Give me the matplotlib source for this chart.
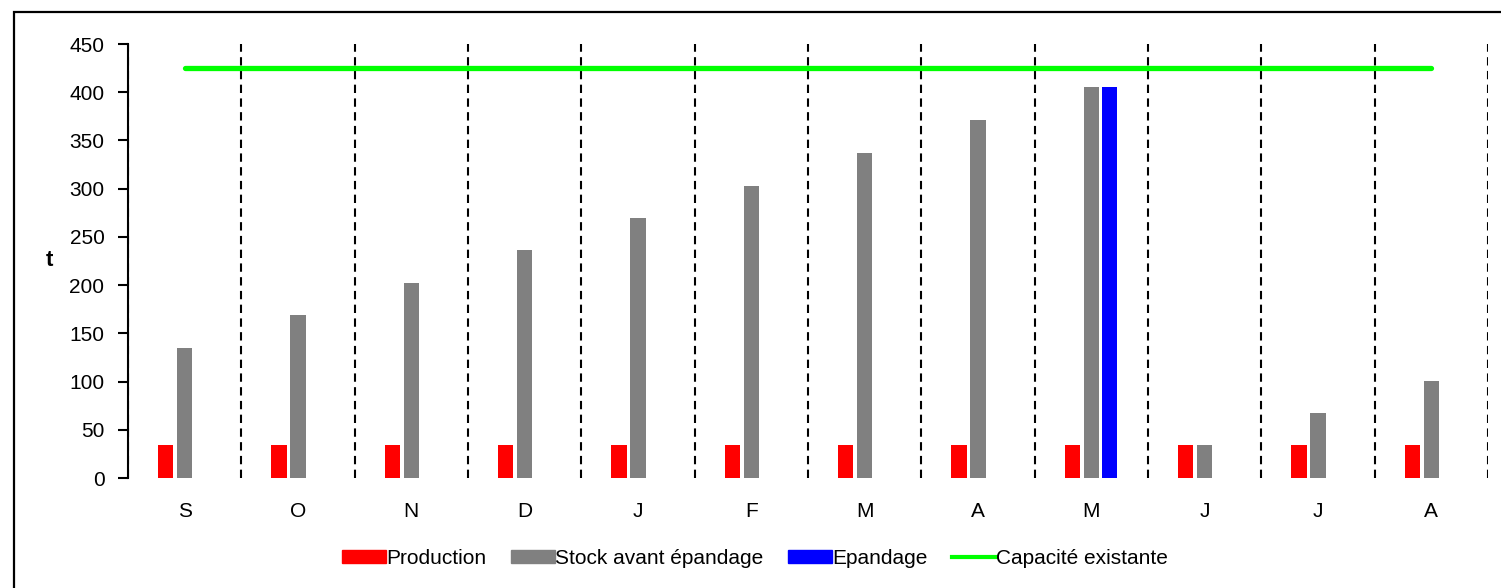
import matplotlib
matplotlib.use("Agg")
import matplotlib.pyplot as plt
import numpy as np
from matplotlib.patches import Rectangle, Patch
from matplotlib.lines import Line2D

plt.rcParams["font.family"] = ["Liberation Sans", "DejaVu Sans"]

months = ["S", "O", "N", "D", "J", "F", "M", "A", "M", "J", "J", "A"]
production = [33.7] * 12
stock = [135, 169, 202, 236, 270, 303, 337, 371, 405, 34, 67, 101]
epandage = [0, 0, 0, 0, 0, 0, 0, 0, 405, 0, 0, 0]
capacite = [425] * 12

RED, GREY, BLUE, GREEN = "#ff0000", "#808080", "#0000ff", "#00ff00"

fig = plt.figure(figsize=(15.01, 5.88), dpi=100)
ax = fig.add_axes([128 / 1501, 1 - 478 / 588, 1360 / 1501, 434 / 588])

x = np.arange(len(months))
w = 0.135
ax.bar(x - 0.168, production, w, color=RED, zorder=3)
ax.bar(x, stock, w, color=GREY, zorder=3)
ax.bar(x + 0.16, epandage, w, color=BLUE, zorder=3)
ax.plot(x, capacite, color=GREEN, lw=3.8, solid_capstyle="round", zorder=4)

# dashed separators between months
for k in range(len(months) + 1):
    ax.axvline(k - 0.5, color="black", lw=1.5, ls=(0, (4, 2.6)), zorder=2)

ax.set_xlim(-0.5, len(months) - 0.5)
ax.set_ylim(0, 450)
ax.set_yticks(range(0, 451, 50))
ax.set_xticks(x)
ax.set_xticklabels(months)
ax.tick_params(axis="y", direction="out", length=7, width=1.5, labelsize=15, pad=10)
ax.tick_params(axis="x", length=0, labelsize=15, pad=17)
for s in ("top", "right", "bottom"):
    ax.spines[s].set_visible(False)
ax.spines["left"].set_linewidth(1.5)
ax.set_ylabel("t", fontsize=16, fontweight="bold", rotation=0, labelpad=14, va="center")

handles = [Patch(color=RED, label="Production"),
           Patch(color=GREY, label="Stock avant épandage"),
           Patch(color=BLUE, label="Epandage"),
           Line2D([], [], color=GREEN, lw=3, label="Capacité existante")]
fig.legend(handles=handles, loc="center", bbox_to_anchor=(755 / 1501, 1 - 558 / 588),
           ncol=4, frameon=False, fontsize=15, handlelength=2.1, handleheight=0.6,
           handletextpad=0.0, columnspacing=1.2)

fig.patches.append(Rectangle((14 / 1501, -0.2), 1.2, 1.2 - 12 / 588,
                             transform=fig.transFigure, fill=False,
                             edgecolor="black", lw=1.6))

fig.savefig("out.png", dpi=100)
